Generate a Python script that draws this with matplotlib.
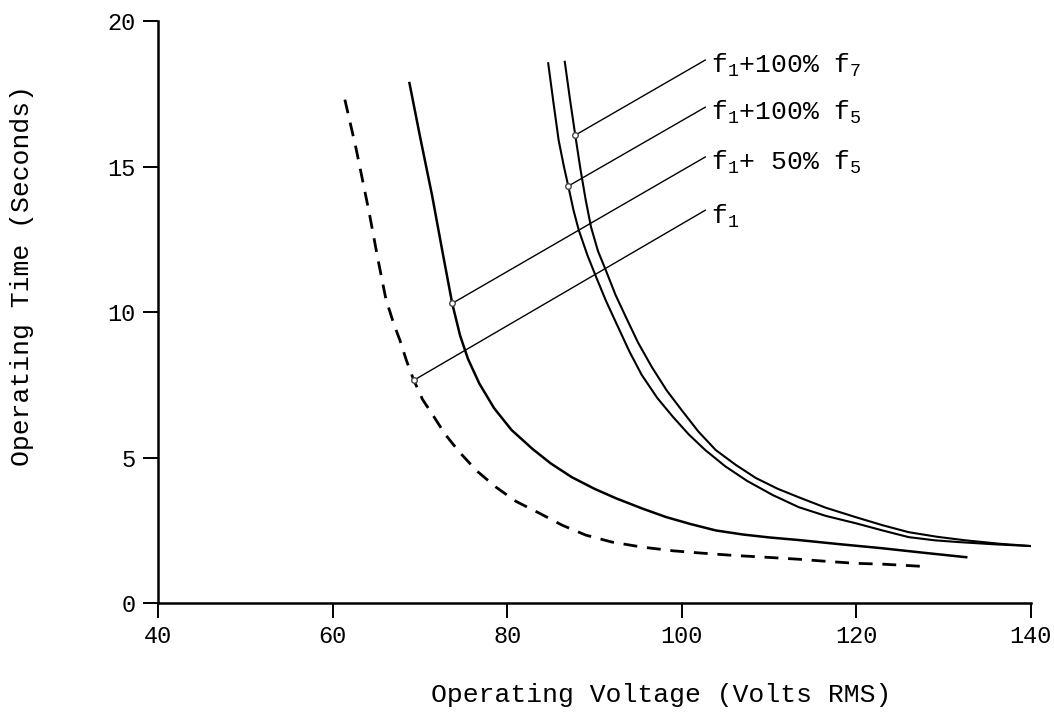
import numpy as np
from matplotlib import pyplot as plt

# data (volts, seconds)
f1_v = [61.4, 62.7, 64.2, 65.2, 66.1, 67.0, 67.7, 68.5, 69.3, 70.3, 71.4,
        72.9, 74.5, 76.5, 78.7, 81.0, 83.7, 86.3, 89.0, 92.0, 95.4, 99.0,
        102.3, 106.0, 109.6, 113.4, 116.5, 119.9, 123.1, 127.3]
f1_t = [17.3, 15.6, 13.4, 11.8, 10.45, 9.6, 9.04, 8.3, 7.66, 7.0, 6.5,
        5.8, 5.2, 4.55, 3.99, 3.5, 3.09, 2.68, 2.34, 2.1, 1.93, 1.8,
        1.72, 1.64, 1.58, 1.51, 1.44, 1.37, 1.34, 1.27]

f5_50_v = [68.8, 70.0, 71.4, 72.6, 73.7, 74.6, 75.5, 76.8, 78.5, 80.5,
           82.9, 85.0, 87.4, 90.0, 92.5, 95.5, 98.2, 101.0, 103.9, 107.0,
           110.0, 113.4, 118.0, 122.9, 127.5, 132.6]
f5_50_t = [17.87, 16.05, 14.0, 12.05, 10.3, 9.2, 8.4, 7.55, 6.7, 5.95,
           5.3, 4.8, 4.33, 3.93, 3.6, 3.25, 2.96, 2.72, 2.5, 2.36,
           2.26, 2.17, 2.03, 1.89, 1.74, 1.58]

f5_100_v = [84.7, 85.3, 85.9, 86.5, 87.0, 87.6, 88.2, 89.2, 90.2, 91.3,
            92.5, 94.0, 95.4, 97.2, 99.0, 100.8, 102.7, 105.0, 107.5,
            110.4, 113.4, 116.5, 119.9, 123.0, 126.0, 129.0, 131.7, 136.0,
            140.2]
f5_100_t = [18.55, 17.2, 15.9, 15.0, 14.33, 13.5, 12.82, 11.95, 11.2, 10.4,
            9.62, 8.65, 7.85, 7.05, 6.4, 5.8, 5.26, 4.7, 4.2,
            3.72, 3.3, 3.0, 2.75, 2.5, 2.27, 2.16, 2.1, 2.02,
            1.96]

f7_100_v = [86.6, 87.2, 87.8, 88.4, 89.0, 89.6, 90.4, 91.3, 92.4, 93.6,
            95.0, 96.6, 98.3, 100.0, 101.9, 103.9, 106.2, 108.5, 111.0,
            113.4, 116.5, 119.9, 123.0, 126.0, 129.3, 132.5, 136.5, 140.2]
f7_100_t = [18.6, 17.3, 16.08, 14.9, 13.85, 12.93, 12.1, 11.44, 10.6, 9.83,
            8.95, 8.1, 7.3, 6.63, 5.9, 5.26, 4.75, 4.3, 3.93,
            3.64, 3.28, 2.96, 2.68, 2.44, 2.28, 2.16, 2.04, 1.96]

labels = ["f$_1$", "f$_1$+ 50% f$_5$", "f$_1$+100% f$_5$", "f$_1$+100% f$_7$"]
mark_v = [69.3, 73.7, 87.0, 87.8]
mark_t = [7.66, 10.3, 14.33, 16.08]
lead_end_t = [13.5, 15.33, 17.04, 18.66]

xticks = [40, 60, 80, 100, 120, 140]
yticks = [0, 5, 10, 15, 20]

plt.rcParams['font.family'] = ['Liberation Mono', 'DejaVu Sans Mono']
plt.rcParams['mathtext.fontset'] = 'custom'
plt.rcParams['mathtext.rm'] = 'Liberation Mono'
plt.rcParams['mathtext.it'] = 'Liberation Mono'

fig = plt.figure(figsize=(10.54, 7.13), dpi=100)
ax = fig.add_axes([0.150, 0.154, 0.828, 0.8165])

ax.plot(f1_v, f1_t, color='black', lw=2.0, dashes=(5, 3.5))
ax.plot(f5_50_v, f5_50_t, color='black', lw=1.8)
ax.plot(f5_100_v, f5_100_t, color='black', lw=1.5)
ax.plot(f7_100_v, f7_100_t, color='black', lw=1.5)

# leader lines to the curve labels
lead_x = 102.7
for lab, mv, mt, et in zip(labels, mark_v, mark_t, lead_end_t):
    ax.plot([mv, lead_x], [mt, et], color='black', lw=1.0)
    ax.plot(mv, mt, 'o', ms=4, mfc='white', mec='#444444', mew=1.0)
    ax.text(lead_x + 0.6, et - 0.45, lab, fontsize=19, ha='left', va='baseline')

ax.set_xlim(40, 140)
ax.set_ylim(0, 20)
ax.set_xticks(xticks)
ax.set_yticks(yticks)
ax.spines['top'].set_visible(False)
ax.spines['right'].set_visible(False)
ax.spines['left'].set_linewidth(1.8)
ax.spines['bottom'].set_linewidth(1.8)
ax.tick_params(direction='out', length=11, width=1.4, labelsize=17, pad=5)

fig.text(661 / 1054, 1 - 695 / 713, 'Operating Voltage (Volts RMS)',
         fontsize=19, ha='center', va='center')
fig.text(22 / 1054, 1 - 275 / 713, 'Operating Time (Seconds)',
         fontsize=19, ha='center', va='center', rotation=90)

fig.savefig('out.png', dpi=100)
